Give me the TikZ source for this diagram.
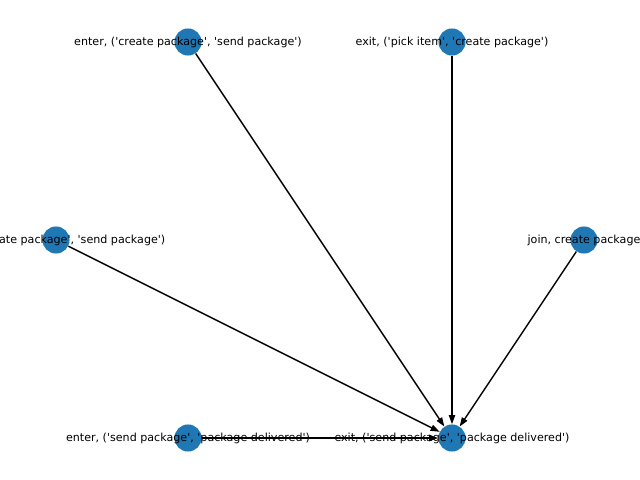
\documentclass[tikz,border=0pt]{standalone}
\usepackage{fontspec}
\setmainfont{DejaVu Sans}
\usetikzlibrary{arrows.meta,positioning}
\definecolor{nxblue}{HTML}{1F77B4}
\newcommand{\sq}{\textquotesingle}

\begin{document}
\begin{tikzpicture}[x=0.72pt,y=-0.72pt,>={Triangle[length=6.5pt,width=4.5pt]},
                        main node/.style={circle,fill=nxblue,minimum size=19.5pt,inner sep=0pt},
                        name text/.style={font=\fontsize{8}{9.6}\selectfont,inner sep=0pt}]
      \clip (0,0) rectangle (640,480);

      \node[main node] (1) at (188,42) {};
      \node[main node] (2) at (452,42) {};
      \node[main node] (3) at (56,240) {};
      \node[main node] (4) at (584,240) {};
      \node[main node] (5) at (188,438) {};
      \node[main node] (6) at (452,438) {};

      \path[->,line width=1pt]
        (1) edge (6)
        (2) edge (6)
        (3) edge (6)
        (4) edge (6)
        (5) edge (6);

      \node[name text] (t1) at (1) {enter, (\sq{}create package\sq, \sq{}send package\sq)};
      \node[name text] (t2) at (2) {exit, (\sq{}pick item\sq, \sq{}create package\sq)};
      \node[name text] (t3) at (3) {exit, (\sq{}create package\sq, \sq{}send package\sq)};
      \node[name text] (t4) at (4) {join, create package};
      \node[name text] (t5) at (5) {enter, (\sq{}send package\sq, \sq{}package delivered\sq)};
      \node[name text] (t6) at (6) {exit, (\sq{}send package\sq, \sq{}package delivered\sq)};
    \end{tikzpicture}
\end{document}
